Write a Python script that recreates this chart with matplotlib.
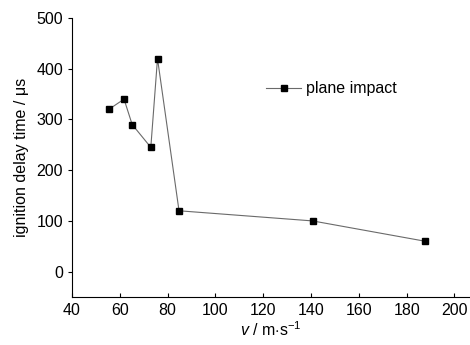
import matplotlib
matplotlib.use('Agg')
import matplotlib.pyplot as plt

plt.rcParams['font.family'] = ['Liberation Sans Narrow', 'Liberation Sans', 'DejaVu Sans']
plt.rcParams['mathtext.fontset'] = 'custom'
plt.rcParams['mathtext.rm'] = 'Liberation Sans'
plt.rcParams['mathtext.it'] = 'Liberation Sans:italic'

# impact velocity (m/s) and ignition delay time (us)
velocity = [55.5, 61.8, 65.2, 73.0, 75.8, 84.8, 140.7, 187.7]
delay = [320, 340, 290, 245, 420, 120, 100, 60]

x_ticks = [40, 60, 80, 100, 120, 140, 160, 180, 200]
y_ticks = [0, 100, 200, 300, 400, 500]

fig = plt.figure(figsize=(4.7, 3.45), dpi=100)
ax = fig.add_axes([0.153, 0.139, 0.847, 0.809])

ax.plot(velocity, delay, color='#6a6a6a', lw=0.8, marker='s', ms=3.8,
        mfc='black', mec='black', label='plane impact')

ax.set_xlim(40, 206.5)
ax.set_ylim(-50, 500)
ax.set_xticks(x_ticks)
ax.set_yticks(y_ticks)
ax.tick_params(axis='x', direction='in', length=3, labelsize=11.5, pad=4)
ax.tick_params(axis='y', direction='out', length=3, labelsize=11.5)
ax.spines['top'].set_visible(False)
ax.spines['right'].set_visible(False)

ax.set_xlabel(r'$v$ / m$\cdot$s$^{-1}$', fontsize=11.5, labelpad=2)
ax.set_ylabel('ignition delay time / μs', fontsize=11.5, labelpad=5)

ax.legend(loc='upper left', bbox_to_anchor=(0.452, 0.825), frameon=False,
          fontsize=11.5, handlelength=2.2, handletextpad=0.3)

fig.savefig('out.png', dpi=100)
